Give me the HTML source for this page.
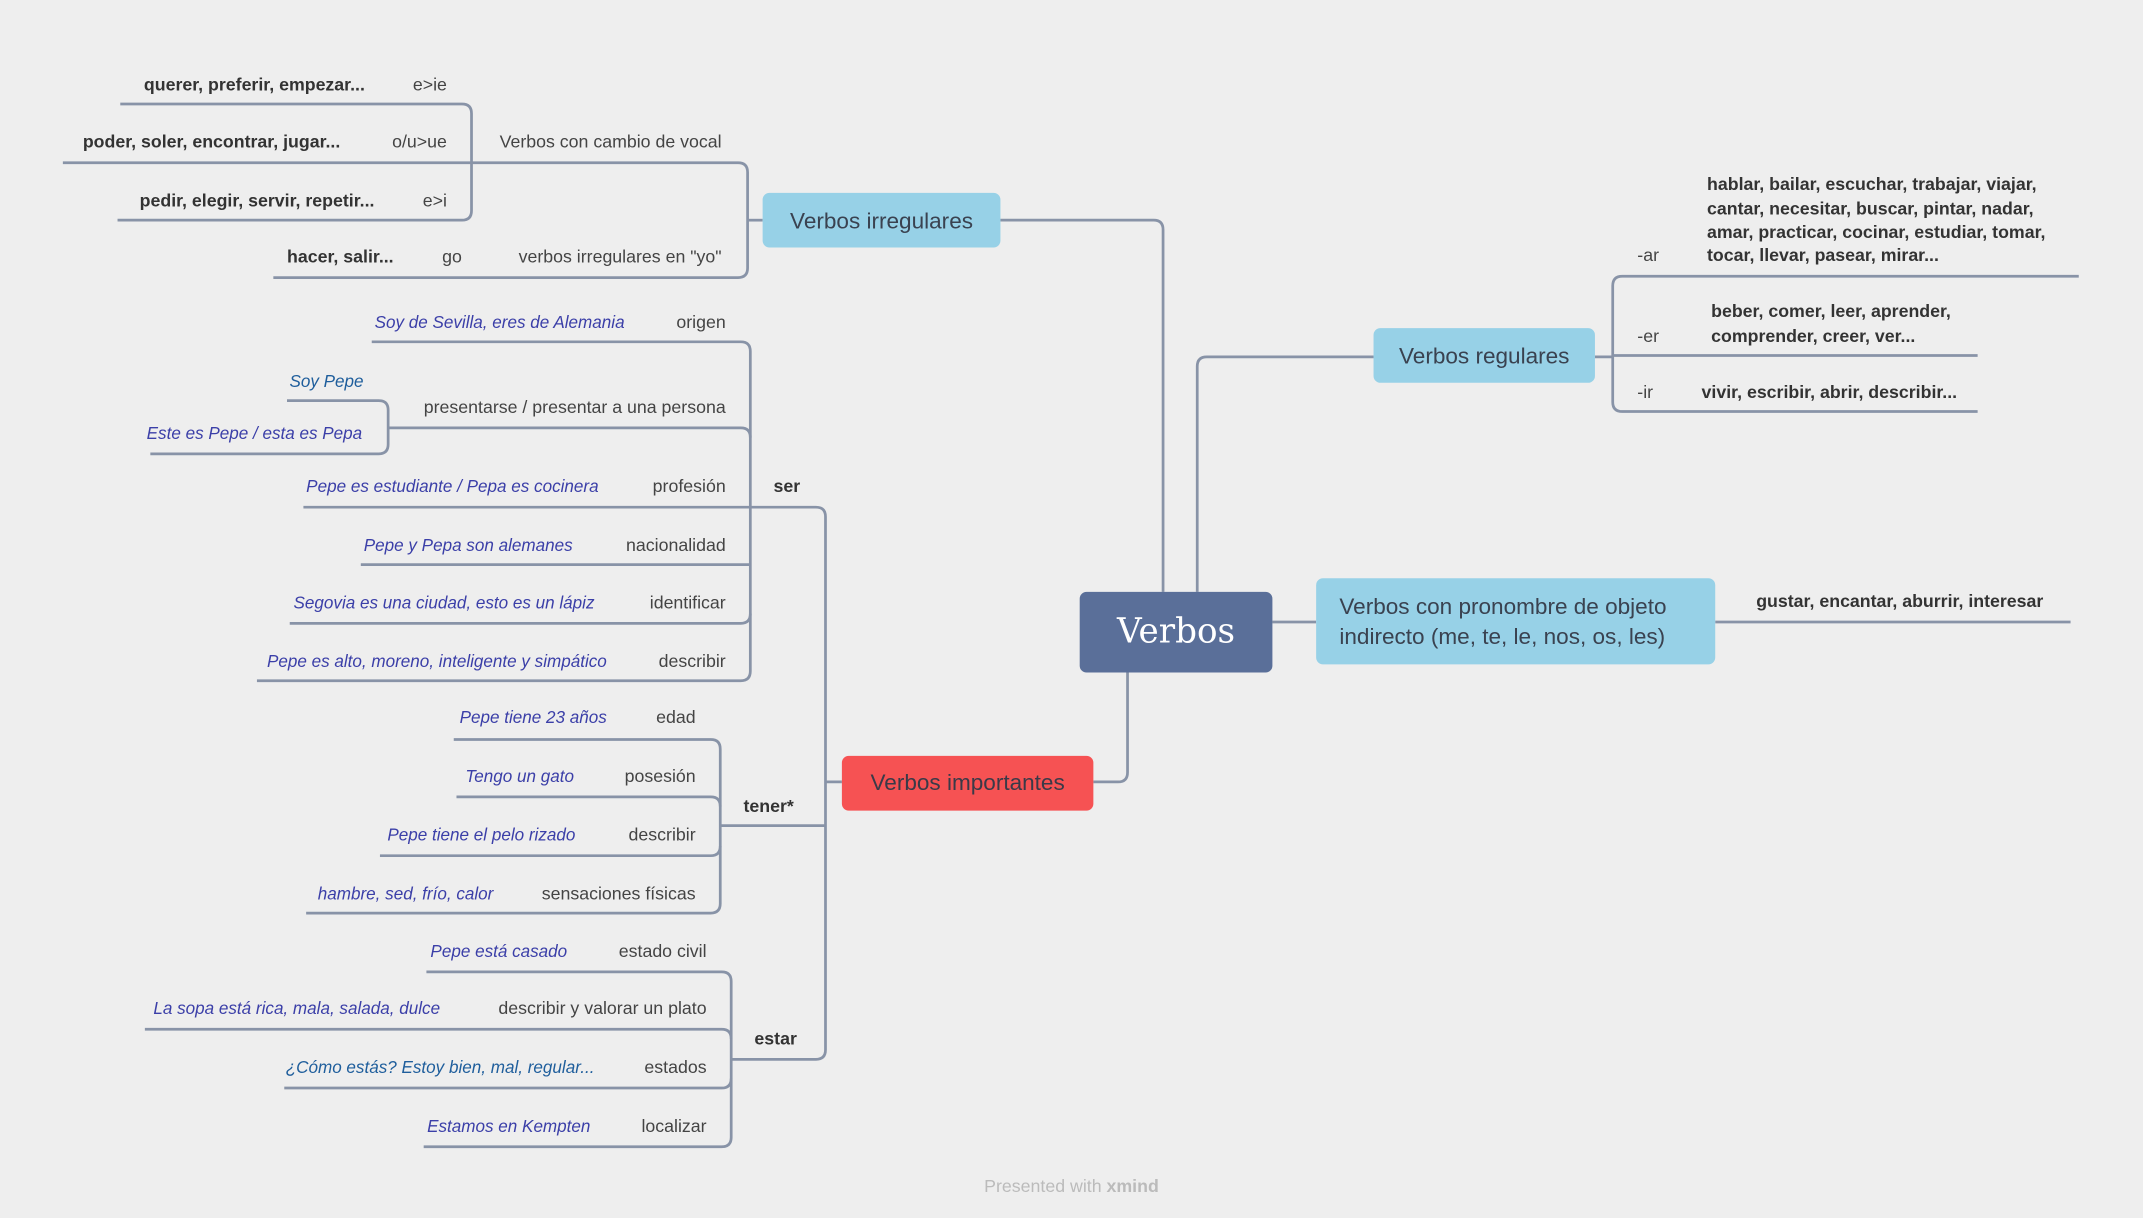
<!DOCTYPE html>
<html><head><meta charset="utf-8"><style>
html,body{margin:0;padding:0;background:#eeeeee;}
svg{display:block}
text{font-family:"Liberation Sans",sans-serif;}
.l{fill:#444;font-size:13px;}
.b{fill:#333;font-size:13px;font-weight:bold;}
.e{fill:#3b3fa8;font-size:12.5px;font-style:italic;}
.e2{fill:#1f5e9c;font-size:12.5px;font-style:italic;}
path{fill:none;stroke:#8893a7;stroke-width:2;}
</style></head><body>
<svg width="2143" height="1218" viewBox="0 0 1568 891" xmlns="http://www.w3.org/2000/svg">
<rect width="1568" height="891" fill="#eeeeee"/>
<path d="M851,433 V168 q0,-7 -7,-7 H732"/>
<path d="M876,433 V268 q0,-7 7,-7 H1005"/>
<path d="M931,455 H963"/>
<path d="M825,492 V565 q0,7 -7,7 H800"/>
<path d="M558,161 H547"/>
<path d="M345,119 H540 q7,0 7,7 V196 q0,7 -7,7 H200"/>
<path d="M46,119 H345"/>
<path d="M88,76 H338 q7,0 7,7 V154 q0,7 -7,7 H86"/>
<path d="M616,572 H604"/>
<path d="M549,371 H597 q7,0 7,7 V768 q0,7 -7,7 H535"/>
<path d="M527,604 H604"/>
<path d="M272,250 H542 q7,0 7,7 V491 q0,7 -7,7 H188"/>
<path d="M284,313 H542 q7,0 7,7"/>
<path d="M210,293 H277 q7,0 7,7 V325 q0,7 -7,7 H110"/>
<path d="M222,371 H549"/>
<path d="M264,413 H549"/>
<path d="M212,456 H542 q7,0 7,-7"/>
<path d="M332,541 H520 q7,0 7,7 V661 q0,7 -7,7 H224"/>
<path d="M334,583 H520 q7,0 7,7"/>
<path d="M278,626 H520 q7,0 7,-7"/>
<path d="M312,711 H528 q7,0 7,7 V832 q0,7 -7,7 H310"/>
<path d="M106,753 H528 q7,0 7,7"/>
<path d="M208,796 H528 q7,0 7,-7"/>
<path d="M1167,261 H1180"/>
<path d="M1521,202 H1187 q-7,0 -7,7 V294 q0,7 7,7 H1447"/>
<path d="M1180,260 H1447"/>
<path d="M1255,455 H1515"/>

<rect x="790" y="433" width="141" height="59" rx="5" fill="#5a6f99"/>
<text x="860.5" y="470" text-anchor="middle" style="font-family:'DejaVu Serif','Liberation Serif',serif;font-size:25px;fill:#fff">Verbos</text>
<rect x="558" y="141" width="174" height="40" rx="5" fill="#97d1e7"/>
<text x="645" y="167" text-anchor="middle" style="font-size:16.5px;fill:#3a4250">Verbos irregulares</text>
<rect x="1005" y="240" width="162" height="40" rx="5" fill="#97d1e7"/>
<text x="1086" y="266" text-anchor="middle" style="font-size:16.5px;fill:#3a4250">Verbos regulares</text>
<rect x="963" y="423" width="292" height="63" rx="5" fill="#97d1e7"/>
<text x="980" y="449" style="font-size:16.5px;fill:#3a4250">Verbos con pronombre de objeto</text>
<text x="980" y="471" style="font-size:16.5px;fill:#3a4250">indirecto (me, te, le, nos, os, les)</text>
<rect x="616" y="553" width="184" height="40" rx="5" fill="#f65253"/>
<text x="708" y="578" text-anchor="middle" style="font-size:16.5px;fill:#3a3a48">Verbos importantes</text>

<text class="b" x="267" y="66" text-anchor="end">querer, preferir, empezar...</text>
<text class="l" x="327" y="66" text-anchor="end">e&gt;ie</text>
<text class="b" x="249" y="108" text-anchor="end">poder, soler, encontrar, jugar...</text>
<text class="l" x="327" y="108" text-anchor="end">o/u&gt;ue</text>
<text class="b" x="274" y="151" text-anchor="end">pedir, elegir, servir, repetir...</text>
<text class="l" x="327" y="151" text-anchor="end">e&gt;i</text>
<text class="l" x="528" y="108" text-anchor="end">Verbos con cambio de vocal</text>
<text class="b" x="288" y="192" text-anchor="end">hacer, salir...</text>
<text class="l" x="338" y="192" text-anchor="end">go</text>
<text class="l" x="528" y="192" text-anchor="end">verbos irregulares en "yo"</text>

<text class="e" x="457" y="240" text-anchor="end">Soy de Sevilla, eres de Alemania</text>
<text class="l" x="531" y="240" text-anchor="end">origen</text>
<text class="e2" x="266" y="283" text-anchor="end">Soy Pepe</text>
<text class="e" x="265" y="321" text-anchor="end">Este es Pepe / esta es Pepa</text>
<text class="l" x="531" y="302" text-anchor="end">presentarse / presentar a una persona</text>
<text class="e" x="438" y="360" text-anchor="end">Pepe es estudiante / Pepa es cocinera</text>
<text class="l" x="531" y="360" text-anchor="end">profesión</text>
<text class="b" x="566" y="360">ser</text>
<text class="e" x="419" y="403" text-anchor="end">Pepe y Pepa son alemanes</text>
<text class="l" x="531" y="403" text-anchor="end">nacionalidad</text>
<text class="e" x="435" y="445" text-anchor="end">Segovia es una ciudad, esto es un lápiz</text>
<text class="l" x="531" y="445" text-anchor="end">identificar</text>
<text class="e" x="444" y="488" text-anchor="end">Pepe es alto, moreno, inteligente y simpático</text>
<text class="l" x="531" y="488" text-anchor="end">describir</text>

<text class="e" x="444" y="529" text-anchor="end">Pepe tiene 23 años</text>
<text class="l" x="509" y="529" text-anchor="end">edad</text>
<text class="e" x="420" y="572" text-anchor="end">Tengo un gato</text>
<text class="l" x="509" y="572" text-anchor="end">posesión</text>
<text class="e" x="421" y="615" text-anchor="end">Pepe tiene el pelo rizado</text>
<text class="l" x="509" y="615" text-anchor="end">describir</text>
<text class="e" x="361" y="658" text-anchor="end">hambre, sed, frío, calor</text>
<text class="l" x="509" y="658" text-anchor="end">sensaciones físicas</text>
<text class="b" x="544" y="594">tener*</text>

<text class="e" x="415" y="700" text-anchor="end">Pepe está casado</text>
<text class="l" x="517" y="700" text-anchor="end">estado civil</text>
<text class="e" x="322" y="742" text-anchor="end">La sopa está rica, mala, salada, dulce</text>
<text class="l" x="517" y="742" text-anchor="end">describir y valorar un plato</text>
<text class="e2" x="435" y="785" text-anchor="end">¿Cómo estás? Estoy bien, mal, regular...</text>
<text class="l" x="517" y="785" text-anchor="end">estados</text>
<text class="e" x="432" y="828" text-anchor="end">Estamos en Kempten</text>
<text class="l" x="517" y="828" text-anchor="end">localizar</text>
<text class="b" x="552" y="764">estar</text>

<text class="l" x="1198" y="191">-ar</text>
<text class="b" x="1249" y="139">hablar, bailar, escuchar, trabajar, viajar,</text>
<text class="b" x="1249" y="157">cantar, necesitar, buscar, pintar, nadar,</text>
<text class="b" x="1249" y="174">amar, practicar, cocinar, estudiar, tomar,</text>
<text class="b" x="1249" y="191">tocar, llevar, pasear, mirar...</text>
<text class="l" x="1198" y="250">-er</text>
<text class="b" x="1252" y="232">beber, comer, leer, aprender,</text>
<text class="b" x="1252" y="250">comprender, creer, ver...</text>
<text class="l" x="1198" y="291">-ir</text>
<text class="b" x="1245" y="291">vivir, escribir, abrir, describir...</text>
<text class="b" x="1285" y="444">gustar, encantar, aburrir, interesar</text>

<text x="784" y="872" text-anchor="middle" style="font-size:13px;fill:#bbb">Presented with <tspan style="font-weight:bold">xmind</tspan></text>
</svg>
</body></html>
